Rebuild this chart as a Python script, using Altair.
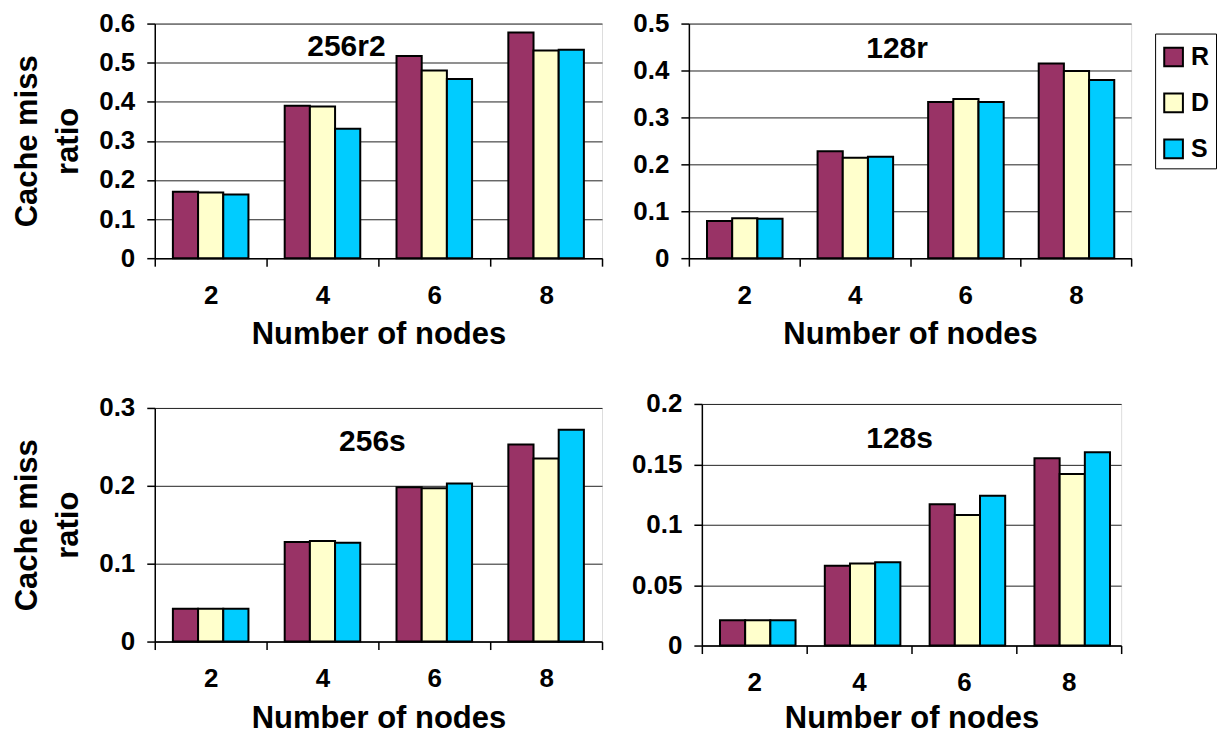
import altair as alt
import pandas as pd

nodes = ["2", "4", "6", "8"]
series = ["R", "D", "S"]
colors = ["#993366", "#FFFFCC", "#00CCFF"]

# 256r2
p256r2_R = [0.170, 0.390, 0.517, 0.577]
p256r2_D = [0.168, 0.388, 0.480, 0.531]
p256r2_S = [0.163, 0.331, 0.458, 0.533]
# 128r
p128r_R = [0.079, 0.228, 0.333, 0.415]
p128r_D = [0.085, 0.214, 0.339, 0.399]
p128r_S = [0.084, 0.216, 0.333, 0.380]
# 256s
p256s_R = [0.042, 0.128, 0.198, 0.253]
p256s_D = [0.042, 0.129, 0.197, 0.235]
p256s_S = [0.042, 0.127, 0.203, 0.272]
# 128s
p128s_R = [0.021, 0.066, 0.117, 0.155]
p128s_D = [0.021, 0.068, 0.108, 0.142]
p128s_S = [0.021, 0.069, 0.124, 0.160]

ticks_06 = [0, 0.1, 0.2, 0.3, 0.4, 0.5, 0.6]
ticks_05 = [0, 0.1, 0.2, 0.3, 0.4, 0.5]
ticks_03 = [0, 0.1, 0.2, 0.3]
ticks_02 = [0, 0.05, 0.1, 0.15, 0.2]

FONT = "Liberation Sans"


def make_df(R, D, S):
    rows = []
    for name, vals in zip(series, [R, D, S]):
        for n, v in zip(nodes, vals):
            rows.append({"nodes": n, "series": name, "value": v})
    return pd.DataFrame(rows)


def panel(title, R, D, S, ymax, yticks, w, h, ytitle, legend, tdx, toff, xtp):
    df = make_df(R, D, S)
    yaxis = alt.Axis(
        values=yticks, format="~g", grid=True, gridColor="#222", gridWidth=1,
        tickSize=8, tickColor="black", tickWidth=1.5, domainColor="black", domainWidth=1.5,
        labelFontSize=26, labelFont=FONT, labelFontWeight="bold", labelColor="black",
        labelPadding=12,
        title=(["Cache miss", "ratio"] if ytitle else None),
        titleFontSize=31, titleFont=FONT, titleFontWeight="bold", titleColor="black",
        titleLineHeight=41, titlePadding=14,
    )
    xaxis = alt.Axis(
        title="Number of nodes", labelAngle=0, tickBand="extent", grid=False,
        tickSize=8, tickColor="black", tickWidth=1.5, domainColor="black", domainWidth=1.5,
        labelFontSize=26, labelFont=FONT, labelFontWeight="bold", labelColor="black",
        labelPadding=16,
        titleFontSize=31, titleFont=FONT, titleFontWeight="bold", titleColor="black",
        titlePadding=xtp,
    )
    if legend:
        leg = alt.Legend(
            title=" ", titleFontSize=2, titlePadding=3,
            orient="none", legendX=467, legendY=10,
            symbolType="square", symbolSize=350, symbolStrokeColor="black",
            symbolStrokeWidth=2, symbolOpacity=1,
            labelFontSize=25, labelFont=FONT, labelFontWeight="bold", labelColor="black",
            labelOffset=5, rowPadding=19, padding=6,
            strokeColor="black", fillColor="white",
        )
    else:
        leg = None
    return alt.Chart(df).mark_bar(stroke="black", strokeWidth=2).encode(
        x=alt.X("nodes:N", sort=nodes, scale=alt.Scale(paddingInner=0, paddingOuter=0), axis=xaxis),
        xOffset=alt.XOffset("series:N", sort=series, scale=alt.Scale(paddingInner=0, paddingOuter=0.72)),
        y=alt.Y("value:Q", scale=alt.Scale(domain=[0, ymax], nice=False, zero=True), axis=yaxis),
        color=alt.Color("series:N", sort=series, scale=alt.Scale(domain=series, range=colors), legend=leg),
    ).properties(
        width=w, height=h,
        title=alt.TitleParams(text=title, anchor="middle", dx=tdx, offset=toff,
                              baseline="middle", fontSize=30, font=FONT, fontWeight="bold", color="black"),
    )


tl = panel("256r2", p256r2_R, p256r2_D, p256r2_S, 0.6, ticks_06, 448, 235, True, False, -32, -66, 11)
tr = panel("128r", p128r_R, p128r_D, p128r_S, 0.5, ticks_05, 443, 235, False, True, -13, -68, 11)
bl = panel("256s", p256s_R, p256s_D, p256s_S, 0.3, ticks_03, 448, 234, True, False, -6, -77, 12)
br = panel("128s", p128s_R, p128s_D, p128s_S, 0.2, ticks_02, 420, 242, False, False, -12, -78, 8)

top = alt.hconcat(tl, tr, spacing=87, bounds="flush").resolve_scale(color="independent").resolve_legend(color="independent")
bottom = alt.hconcat(bl, br, spacing=100, bounds="flush", center=True).resolve_scale(color="independent").resolve_legend(color="independent")

chart = alt.vconcat(top, bottom, spacing=40).resolve_scale(
    color="independent").resolve_legend(color="independent").properties(
    padding={"left": 3, "top": 1, "right": 0, "bottom": 0}
).configure_view(stroke="#888888", strokeWidth=2).configure(background="white")

chart.save("out.html", embed_options={"renderer": "svg", "actions": False})
